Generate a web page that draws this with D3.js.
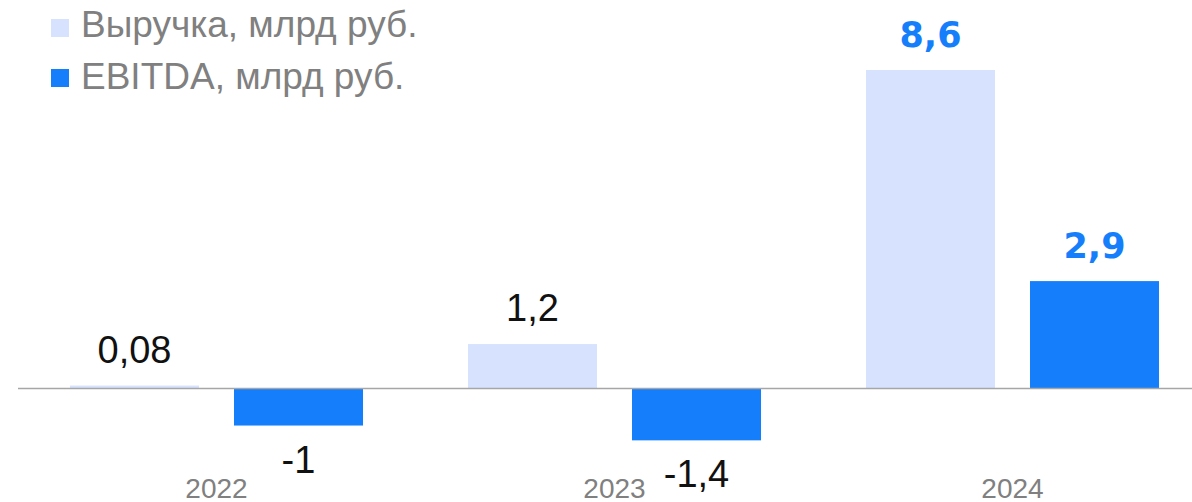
<!DOCTYPE html>
<html lang="ru">
<head>
    <meta charset="UTF-8">
    <title>Выручка и EBITDA</title>
    <script src="https://cdnjs.cloudflare.com/ajax/libs/d3/7.8.4/d3.min.js"></script>
    <style>
        html, body { margin: 0; padding: 0; background: #fff; }
        svg { display: block; font-family: "Liberation Sans", Arial, sans-serif; }
    </style>
</head>
<body>
    <svg width="1192" height="502"></svg>

    <script>
        const years = ["2022", "2023", "2024"];
        const seriesNames = ["Выручка, млрд руб.", "EBITDA, млрд руб."];
        const revenue = [0.08, 1.2, 8.6];
        const ebitda = [-1, -1.4, 2.9];
        const revenueLabels = ["0,08", "1,2", "8,6"];
        const ebitdaLabels = ["-1", "-1,4", "2,9"];

        const colors = ["#d6e2fe", "#157efb"];
        const highlightYear = "2024";

        const svg = d3.select("svg");

        const rows = [];
        years.forEach((yr, i) => {
            rows.push({ year: yr, s: 0, v: revenue[i], label: revenueLabels[i] });
            rows.push({ year: yr, s: 1, v: ebitda[i], label: ebitdaLabels[i] });
        });

        const x0 = d3.scaleBand().domain(years).range([17.5, 1211.5]).padding(0);
        const x1 = d3.scaleBand().domain([0, 1]).range([0, x0.bandwidth()])
            .paddingInner(0.2134).paddingOuter(0.32);
        const y = d3.scaleLinear().domain([0, 8.6]).range([388.5, 70]);

        // bars
        svg.append("g").selectAll("rect")
            .data(rows)
            .enter().append("rect")
            .attr("x", d => x0(d.year) + x1(d.s))
            .attr("width", x1.bandwidth())
            .attr("y", d => Math.min(y(d.v), y(0)))
            .attr("height", d => Math.abs(y(d.v) - y(0)))
            .attr("fill", d => colors[d.s]);

        // zero line
        svg.append("line")
            .attr("x1", 18).attr("x2", 1192)
            .attr("y1", y(0)).attr("y2", y(0))
            .attr("stroke", "#a6a6a6")
            .attr("stroke-width", 1.5);

        // value labels
        svg.append("g").selectAll("text")
            .data(rows)
            .enter().append("text")
            .attr("x", d => x0(d.year) + x1(d.s) + x1.bandwidth() / 2)
            .attr("y", d => d.v >= 0 ? y(d.v) - 23 : y(d.v) + 47)
            .attr("text-anchor", "middle")
            .style("font-size", d => d.year === highlightYear ? "35px" : "38px")
            .style("font-family", d => d.year === highlightYear ? "'DejaVu Sans', sans-serif" : null)
            .style("font-weight", d => d.year === highlightYear ? "bold" : "normal")
            .attr("fill", d => d.year === highlightYear ? "#157efb" : "#111")
            .text(d => d.label);

        // year labels (cut by the bottom edge, as in the original)
        svg.append("g").selectAll("text")
            .data(years)
            .enter().append("text")
            .attr("x", d => x0(d) + x0.bandwidth() / 2)
            .attr("y", 498)
            .attr("text-anchor", "middle")
            .style("font-size", "28px")
            .attr("fill", "#808080")
            .text(d => d);

        // legend
        const legend = svg.append("g").selectAll("g")
            .data(seriesNames)
            .enter().append("g")
            .attr("transform", (d, i) => `translate(51,${19 + i * 50})`);

        legend.append("rect")
            .attr("width", 18).attr("height", 18)
            .attr("fill", (d, i) => colors[i]);

        legend.append("text")
            .attr("x", 30)
            .attr("y", (d, i) => 18 + i * 2)
            .style("font-size", "37px")
            .attr("fill", "#808080")
            .text(d => d);
    </script>
</body>
</html>
